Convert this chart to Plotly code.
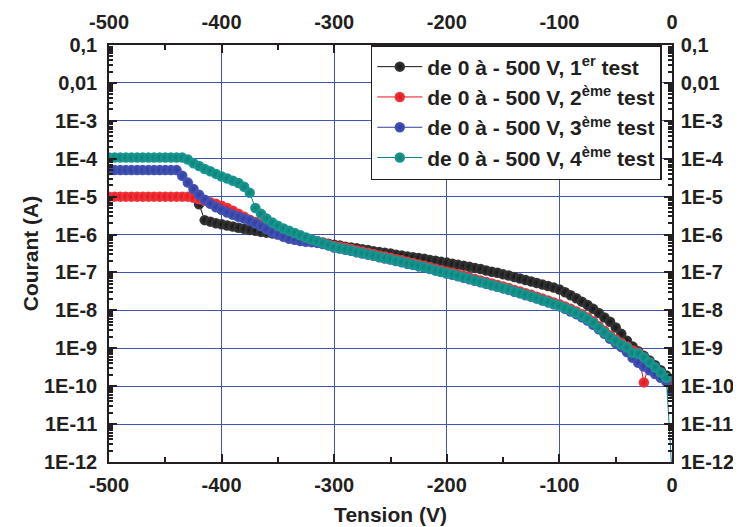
import plotly.graph_objects as go

# Voltage grid (V), 5 V steps
voltage_full = list(range(-500, 5, 5))      # tests 2, 3, 4
voltage_test1 = list(range(-420, 5, 5))     # test 1

# log10 of current (A)
log_i_test1 = [
    -5.2, -5.62, -5.66, -5.7, -5.73, -5.76, -5.79, -5.82, -5.85, -5.88, -5.9, -5.93, -5.95,
    -5.97, -5.99, -6.01, -6.03, -6.06, -6.09, -6.12, -6.15, -6.18, -6.21, -6.24, -6.27,
    -6.29, -6.32, -6.34, -6.36, -6.39, -6.41, -6.44, -6.46, -6.48, -6.5, -6.53, -6.55, -6.58,
    -6.6, -6.62, -6.64, -6.67, -6.69, -6.72, -6.74,
    -6.77, -6.8, -6.82, -6.85, -6.88, -6.91, -6.95, -6.98, -7.01, -7.05, -7.08, -7.12, -7.16,
    -7.2, -7.24, -7.28, -7.32, -7.36, -7.4, -7.45,
    -7.52, -7.6, -7.68, -7.77, -7.86, -7.96, -8.07, -8.19, -8.3, -8.45, -8.62, -8.8, -8.95,
    -9.08, -9.2, -9.32, -9.45, -9.58, -9.72, -9.85,
]

log_i_test2 = [
    -5.0, -5.0, -5.0, -5.0, -5.0, -5.0, -5.0, -5.0, -5.0, -5.0, -5.0, -5.0, -5.0, -5.0, -5.0,
    -5.03, -5.07, -5.11, -5.15, -5.19, -5.24, -5.3, -5.37, -5.45, -5.53, -5.61, -5.67, -5.73,
    -5.79, -5.84, -5.89, -5.94, -5.98, -6.02, -6.06, -6.1, -6.14, -6.18, -6.22, -6.26, -6.3,
    -6.32, -6.35, -6.38, -6.42, -6.45, -6.48, -6.51, -6.55, -6.58, -6.61, -6.65, -6.68, -6.72,
    -6.75, -6.79, -6.82, -6.86, -6.9, -6.94, -6.98,
    -7.01, -7.05, -7.09, -7.13, -7.17, -7.21, -7.25, -7.29, -7.33, -7.37, -7.41, -7.46, -7.5,
    -7.55, -7.59, -7.64, -7.69, -7.74, -7.79, -7.84,
    -7.9, -7.96, -8.03, -8.1, -8.19, -8.29, -8.42, -8.54, -8.66, -8.77, -8.86, -8.95, -9.06,
    -9.12, -9.9, -9.4, -9.52, -9.65, -9.8, -9.97,
]

log_i_test3 = [
    -4.3, -4.3, -4.3, -4.3, -4.3, -4.3, -4.3, -4.3, -4.3, -4.3, -4.3, -4.3, -4.3,
    -4.45, -4.63, -4.8, -4.95, -5.08, -5.19, -5.28, -5.35, -5.42, -5.48, -5.53, -5.58, -5.63,
    -5.7, -5.78, -5.86, -5.94, -6.0, -6.06, -6.11, -6.14, -6.17, -6.19, -6.2, -6.22, -6.25,
    -6.29, -6.34,
    -6.37, -6.4, -6.43, -6.47, -6.5, -6.53, -6.56, -6.6, -6.63, -6.66, -6.7, -6.73, -6.77,
    -6.8, -6.84, -6.87, -6.91, -6.95, -6.99, -7.03,
    -7.06, -7.1, -7.14, -7.18, -7.22, -7.26, -7.3, -7.34, -7.38, -7.42, -7.46, -7.51, -7.55,
    -7.6, -7.64, -7.69, -7.74, -7.79, -7.84, -7.89,
    -7.96, -8.03, -8.1, -8.18, -8.27, -8.38, -8.5, -8.62, -8.75, -8.86, -8.97,
    -9.1, -9.25, -9.38, -9.48, -9.58, -9.68, -9.78, -9.88, -10.15,
]

log_i_test4 = [
    -3.97, -3.97, -3.97, -3.97, -3.97, -3.97, -3.97, -3.97, -3.97, -3.97, -3.97, -3.97, -3.97,
    -3.97,
    -4.02, -4.12, -4.19, -4.27, -4.33, -4.4, -4.47, -4.52, -4.58, -4.64, -4.74, -4.9, -5.3,
    -5.45, -5.58, -5.68, -5.77, -5.84, -5.9, -5.96, -6.02, -6.08, -6.13, -6.18, -6.23, -6.28,
    -6.33,
    -6.36, -6.39, -6.42, -6.46, -6.49, -6.52, -6.55, -6.59, -6.62, -6.65, -6.69, -6.72, -6.76,
    -6.79, -6.83, -6.86, -6.9, -6.94, -6.98, -7.02,
    -7.05, -7.09, -7.13, -7.17, -7.21, -7.25, -7.29, -7.33, -7.37, -7.41, -7.45, -7.5, -7.54,
    -7.59, -7.63, -7.68, -7.73, -7.78, -7.83, -7.88,
    -7.94, -8.0, -8.07, -8.14, -8.23, -8.33, -8.46, -8.58, -8.7, -8.81, -8.9, -8.98, -9.12,
    -9.14, -9.24, -9.37, -9.5, -9.64, -9.78, -12.3,
]

series_names = [
    "de 0 à - 500 V, 1<sup>er</sup> test",
    "de 0 à - 500 V, 2<sup>ème</sup> test",
    "de 0 à - 500 V, 3<sup>ème</sup> test",
    "de 0 à - 500 V, 4<sup>ème</sup> test",
]
series_colors = ["#151515", "#e5121b", "#2f3d9f", "#08807a"]
series_centers = ["#3a3a3a", "#f03a40", "#4656b8", "#1c9a93"]

y_tick_vals = [1e-12, 1e-11, 1e-10, 1e-9, 1e-8, 1e-7, 1e-6, 1e-5, 1e-4, 1e-3, 1e-2, 1e-1]
y_tick_text = ["1E-12", "1E-11", "1E-10", "1E-9", "1E-8", "1E-7", "1E-6", "1E-5",
               "1E-4", "1E-3", "0,01", "0,1"]
x_tick_vals = [-500, -400, -300, -200, -100, 0]
x_tick_text = ["-500", "-400", "-300", "-200", "-100", "0"]

xs = [voltage_test1, voltage_full, voltage_full, voltage_full]
ys = [log_i_test1, log_i_test2, log_i_test3, log_i_test4]

fig = go.Figure()
for name, color, center, xv, yv in zip(series_names, series_colors, series_centers, xs, ys):
    fig.add_trace(go.Scatter(
        x=xv, y=[10 ** v for v in yv], name=name, mode="lines+markers",
        line=dict(color=color, width=1),
        marker=dict(size=10.5, color=center, line=dict(width=0),
                    gradient=dict(type="radial", color=color)),
    ))
fig.add_trace(go.Scatter(x=[], y=[], xaxis="x2", yaxis="y2", showlegend=False))

FONT = "Liberation Sans, Arial, sans-serif"
tickfont = dict(family=FONT, size=20, color="#231f20", weight="bold")
axis_common = dict(showline=True, linecolor="#231f20", linewidth=1.5, ticks="inside",
                   tickcolor="#231f20", tickwidth=1.5, ticklen=8, tickfont=tickfont,
                   zeroline=False, automargin=False)

fig.update_layout(
    width=741, height=527,
    # the page body adds an 8 px offset; margins compensate so the plot sits at 109..672 / 45..462
    margin=dict(l=101, r=77, t=37, b=73),
    paper_bgcolor="white", plot_bgcolor="white",
    font=dict(family=FONT, color="#231f20"),
    xaxis=dict(range=[-500, 0], tickvals=x_tick_vals, ticktext=x_tick_text,
               showgrid=True, gridcolor="#3f55b3", gridwidth=1,
               minor=dict(ticks="inside", ticklen=5, tickcolor="#231f20", dtick=50, tick0=0,
                          showgrid=False),
               title=dict(text="Tension (V)", font=dict(family=FONT, size=21, weight="bold"),
                          standoff=13),
               ticklabelstandoff=4,
               **axis_common),
    xaxis2=dict(range=[-500, 0], overlaying="x", side="top", tickvals=x_tick_vals,
                ticktext=x_tick_text, showgrid=False,
                minor=dict(ticks="inside", ticklen=5, tickcolor="#231f20", dtick=50, tick0=0),
                ticklabelstandoff=6,
                **axis_common),
    yaxis=dict(type="log", range=[-12, -1], tickvals=y_tick_vals, ticktext=y_tick_text,
               showgrid=True, gridcolor="#3f55b3", gridwidth=1,
               minor=dict(ticks="inside", ticklen=4, tickcolor="#231f20", dtick="D1",
                          showgrid=False),
               title=dict(text="Courant (A)", font=dict(family=FONT, size=21, weight="bold"),
                          standoff=0),
               ticklabelstandoff=6,
               **axis_common),
    yaxis2=dict(type="log", range=[-12, -1], overlaying="y", side="right",
                tickvals=y_tick_vals, ticktext=y_tick_text, showgrid=False,
                minor=dict(ticks="inside", ticklen=4, tickcolor="#231f20", dtick="D1"),
                ticklabelstandoff=3,
                **axis_common),
    legend=dict(x=0.465, y=1.0, xanchor="left", yanchor="top",
                bgcolor="white", bordercolor="#231f20", borderwidth=1.5,
                font=dict(family=FONT, size=21, color="#231f20", weight="bold"),
                itemwidth=45, tracegroupgap=0),
    showlegend=True,
)

fig.write_html("out.html")
